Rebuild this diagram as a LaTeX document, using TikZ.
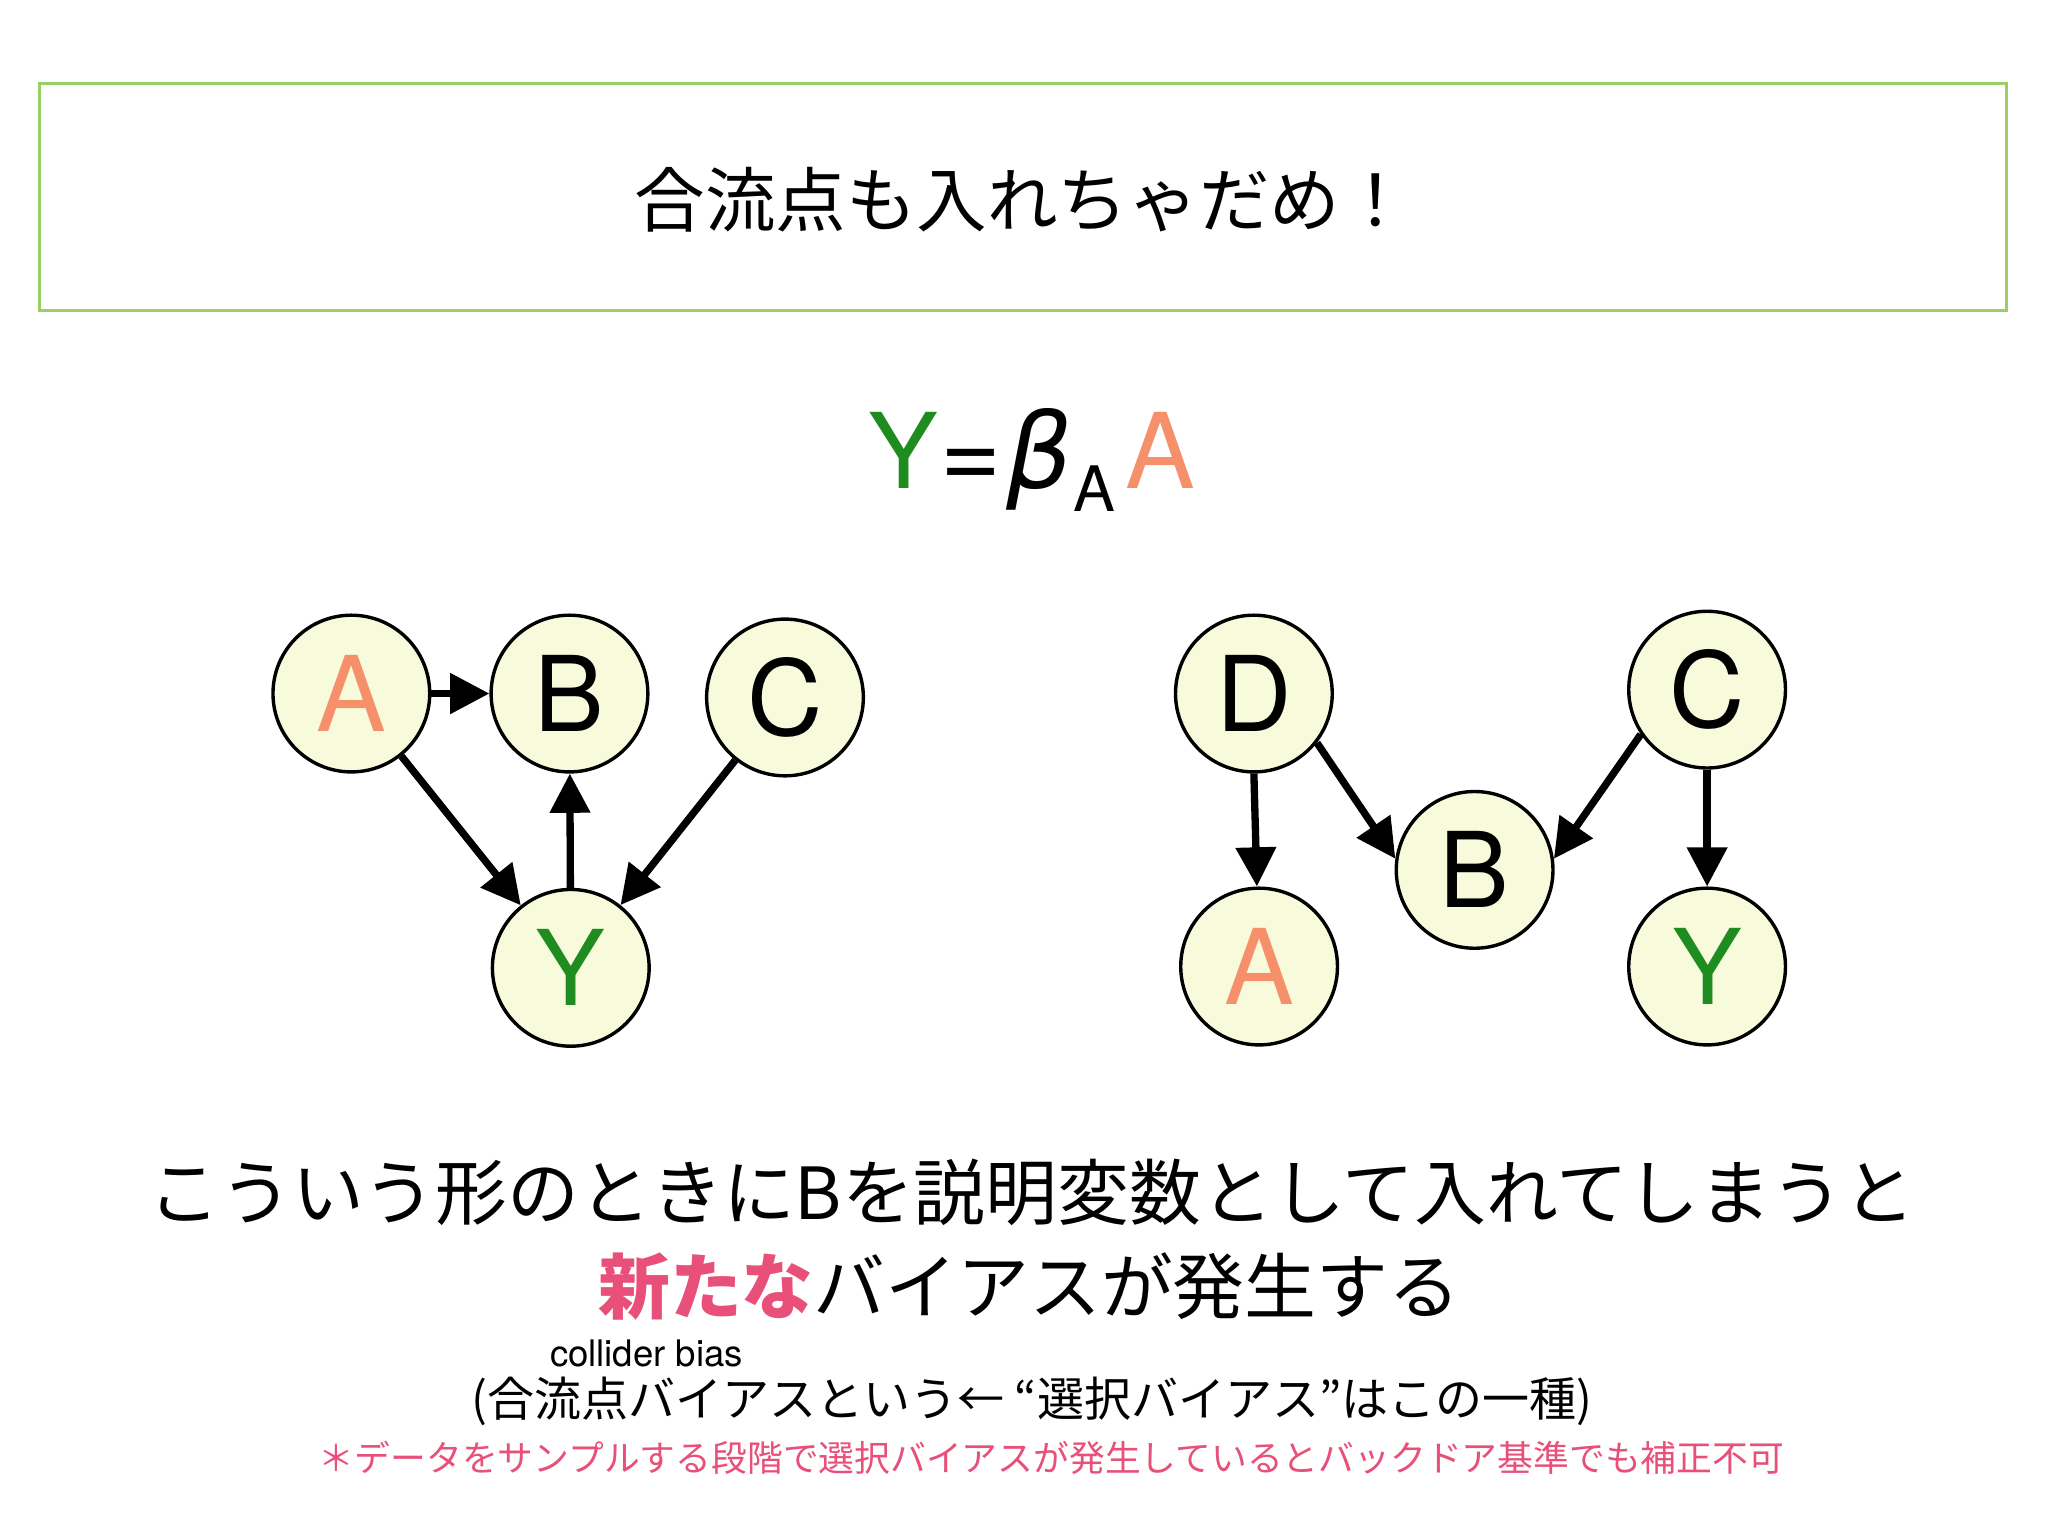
\documentclass[tikz,border=0pt]{standalone}
\usepackage{fontspec}
\setmainfont{Noto Sans CJK JP}
\newfontfamily\latinf{TeX Gyre Heros}
\newfontfamily\dejavu{DejaVu Sans}
\usetikzlibrary{arrows.meta}
\definecolor{boxgreen}{HTML}{99D066}
\definecolor{nodefill}{HTML}{F8FADC}
\definecolor{orangeA}{HTML}{F5906A}
\definecolor{greenY}{HTML}{1E8C1E}
\definecolor{pinkT}{HTML}{E8507A}
\tikzset{
 var/.style={circle,draw=black,line width=1.3pt,fill=nodefill,minimum size=60pt,inner sep=0pt,font=\latinf\fontsize{40}{40}\selectfont},
 arr/.style={line width=2.8pt,-{Triangle[length=15pt,width=15pt]}},
}
\begin{document}
\begin{tikzpicture}[x=0.5pt,y=-0.5pt]
\useasboundingbox (0,0) rectangle (1568,1176);
\fill[white] (0,0) rectangle (1568,1176);
\draw[boxgreen,line width=1.2pt] (30,64) rectangle (1536,238);
\node (title) at (783,153) {\fontsize{27}{27}\selectfont 合流点も入れちゃだめ！};
\node (eq) at (790,352) {\latinf\fontsize{40}{40}\selectfont\textcolor{greenY}{Y}\kern1pt=\kern2pt{\dejavu\itshape β}\raisebox{-9pt}{\fontsize{24}{24}\selectfont A}\kern4pt\textcolor{orangeA}{A}};
% left graph
\node[var,text=orangeA] (A1) at (269,531) {A};
\node[var] (B1) at (436,531) {B};
\node[var] (C1) at (601,534) {C};
\node[var,text=greenY] (Y1) at (437,741) {Y};
\draw[arr] (A1) -- (B1);
\draw[arr] (A1) -- (Y1);
\draw[arr] (Y1) -- (B1);
\draw[arr] (C1) -- (Y1);
% right graph
\node[var] (D2) at (960,531) {D};
\node[var] (C2) at (1307,528) {C};
\node[var] (B2) at (1129,666) {B};
\node[var,text=orangeA] (A2) at (964,740) {A};
\node[var,text=greenY] (Y2) at (1307,740) {Y};
\draw[arr] (D2.south) -- (A2);
\draw[arr] (D2.-38) -- (B2.172);
\draw[arr] (C2.-146) -- (B2.8);
\draw[arr] (C2) -- (Y2);
% texts
\node (t1) at (790,913) {\fontsize{27.5}{27.5}\selectfont こういう形のときにBを説明変数として入れてしまうと};
\node (t2) at (788,985) {\fontsize{27.5}{27.5}\selectfont\textcolor{pinkT}{\bfseries 新たな}バイアスが発生する};
\node (t3) at (495,1036) {\latinf\fontsize{14}{14}\selectfont collider bias};
\node (t4) at (790,1073) {\fontsize{18}{18}\selectfont (合流点バイアスという← “選択バイアス”はこの一種)};
\node[text=pinkT] (t5) at (805,1116) {\fontsize{13.7}{13.7}\selectfont ＊データをサンプルする段階で選択バイアスが発生しているとバックドア基準でも補正不可};
\end{tikzpicture}
\end{document}
